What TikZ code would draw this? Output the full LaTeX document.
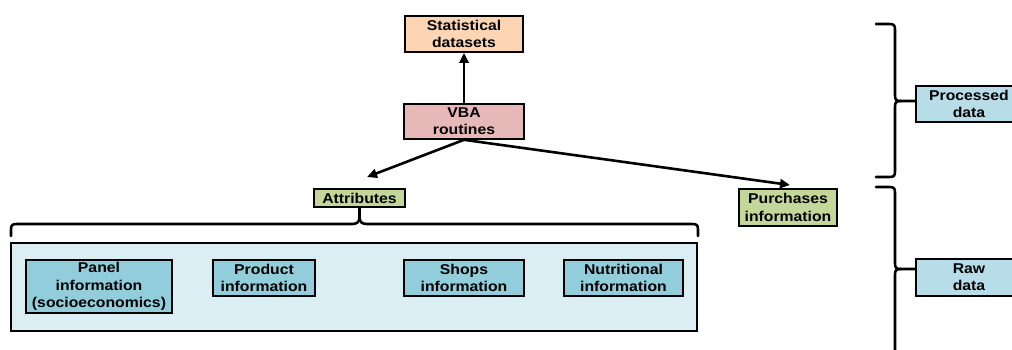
\documentclass[tikz,border=0pt]{standalone}
\usepackage{fontspec}
\setmainfont{Liberation Sans}[FakeStretch=1.11]
\usetikzlibrary{arrows.meta}
\definecolor{peach}{HTML}{FCD5B4}
\definecolor{pinkb}{HTML}{E6B8B7}
\definecolor{greenb}{HTML}{C4D79B}
\definecolor{blueb}{HTML}{92CDDC}
\definecolor{lightb}{HTML}{DAEEF3}
\definecolor{procb}{HTML}{B7DEE8}
\tikzset{
  box/.style={draw=black, line width=1.6pt, inner sep=0pt, align=center,
    font=\fontsize{14.2}{17.3}\selectfont\bfseries},
  conn/.style={line width=2.6pt, -{Triangle[length=10pt,width=9pt]}},
  bracel/.style={line width=2.6pt, line cap=round, line join=round},
}
\begin{document}
\begin{tikzpicture}[x=1pt,y=-1pt]
\useasboundingbox (0,0) rectangle (1012,349);
\begin{scope}
\clip (0,0) rectangle (1012,349);
% nodes
\node[box, fill=peach, minimum width=118pt, minimum height=36pt] (stat) at (464,34) {Statistical\\datasets};
\node[box, fill=pinkb, minimum width=120pt, minimum height=35pt] (vba) at (464,121.5) {VBA\\routines};
\node[box, fill=greenb, minimum width=91pt, minimum height=18pt] (attr) at (359.5,198) {Attributes};
\node[box, fill=greenb, minimum width=98pt, minimum height=37pt] (purch) at (788,207.5) {Purchases\\information};
\node[draw=black, line width=2.6pt, fill=lightb, minimum width=686pt, minimum height=88pt, inner sep=0pt] (big) at (354,287) {};
\node[box, fill=blueb, minimum width=146pt, minimum height=53pt] (panel) at (99,286.5) {Panel\\information\\(socioeconomics)};
\node[box, fill=blueb, minimum width=102pt, minimum height=36pt] (prod) at (264,278) {Product\\information};
\node[box, fill=blueb, minimum width=120pt, minimum height=36pt] (shops) at (464,278) {Shops\\information};
\node[box, fill=blueb, minimum width=119pt, minimum height=36pt] (nutr) at (623.5,278) {Nutritional\\information};
\node[box, fill=procb, minimum width=106pt, minimum height=36pt] (proc) at (969,104) {Processed\\data};
\node[box, fill=procb, minimum width=106pt, minimum height=37pt] (raw) at (969,277.5) {Raw\\data};
% arrow end points
\coordinate (attrtip) at (367,177);
\coordinate (purchtip) at (790,185);
% connectors
\draw[conn] (vba.north) -- (stat.south);
\draw[conn] (vba.south) -- (attrtip);
\draw[conn] (vba.south) -- (purchtip);
% bottom brace
\draw[bracel] (11,236) -- (11,230) .. controls (11,225) and (12,224) .. (17,224) -- (352,224)
  .. controls (357,224) and (359.5,222) .. (359.5,217) -- (attr.south);
\draw[bracel] (attr.south) -- (359.5,217) .. controls (359.5,222) and (362,224) .. (367,224)
  -- (692,224) .. controls (697,224) and (698,225) .. (698,230) -- (698,236);
% upper right brace
\draw[bracel] (876,24) -- (889,24) .. controls (894,24) and (895,25) .. (895,30) -- (895,95)
  .. controls (895,100) and (896,101) .. (901,101) -- ([yshift=3pt]proc.west);
\draw[bracel] (901,101) .. controls (896,101) and (895,102) .. (895,107) -- (895,171)
  .. controls (895,176) and (894,177) .. (889,177) -- (876,177);
% lower right brace
\draw[bracel] (876,187) -- (889,187) .. controls (894,187) and (895,188) .. (895,193) -- (895,263)
  .. controls (895,268) and (896,269) .. (901,269) -- ([yshift=8.5pt]raw.west);
\draw[bracel] (901,269) .. controls (896,269) and (895,270) .. (895,275) -- (895,360);
\end{scope}
\end{tikzpicture}
\end{document}
